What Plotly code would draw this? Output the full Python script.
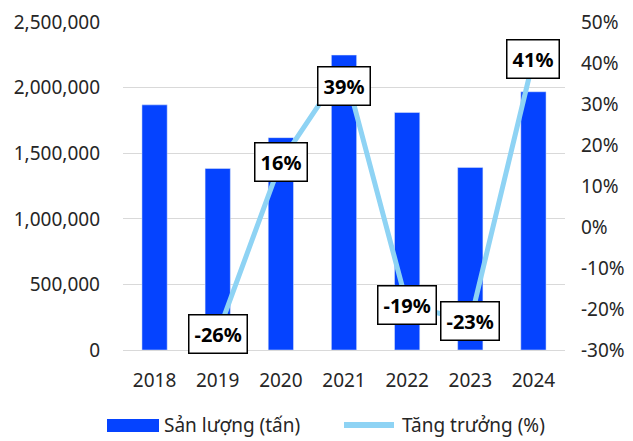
import plotly.graph_objects as go

years = [2018, 2019, 2020, 2021, 2022, 2023, 2024]
san_luong = [1870000, 1385000, 1620000, 2250000, 1812000, 1393000, 1970000]
tang_truong = [None, -26, 16, 39, -19, -23, 41]
label_yshift = [0, 0, 0, -19, 0, 0, 0]
left_ticks = [0, 500000, 1000000, 1500000, 2000000, 2500000]
right_ticks = [-30, -20, -10, 0, 10, 20, 30, 40, 50]
right_ticktext = [f"{v}%" for v in right_ticks]

FONT = "Noto Sans"
BAR_COLOR = "#0543FF"
LINE_COLOR = "#8ED3F4"
TEXT_COLOR = "#262626"

fig = go.Figure()
fig.add_trace(go.Bar(x=years, y=san_luong, marker_color=BAR_COLOR,
                     name="Sản lượng (tấn)", showlegend=False))
fig.add_trace(go.Scatter(x=years, y=tang_truong, yaxis="y2", mode="lines",
                         line=dict(color=LINE_COLOR, width=5),
                         name="Tăng trưởng (%)", showlegend=False))

for yr, v, ys in zip(years, tang_truong, label_yshift):
    if v is None:
        continue
    fig.add_annotation(x=yr, y=v, xref="x", yref="y2", text=f"<b>{v}%</b>",
                       showarrow=False, bgcolor="white", bordercolor="black",
                       borderwidth=1.5, borderpad=5, yshift=ys,
                       font=dict(family=FONT, size=20, color="black"))

# page has an 8px body margin; plot area is kept at page x 123-565, y 22-350
W, H = 442.0, 328.0
def px(x): return (x - 123) / W
def py(y): return (350 - y) / H

# manual legend
fig.add_shape(type="rect", xref="paper", yref="paper", x0=px(107), x1=px(159),
              y0=py(432), y1=py(419), fillcolor=BAR_COLOR, line=dict(width=0))
fig.add_annotation(xref="paper", yref="paper", x=px(162), y=py(425), text="Sản lượng (tấn)",
                   showarrow=False, xanchor="left", yanchor="middle",
                   font=dict(family=FONT, size=19, color=TEXT_COLOR))
fig.add_shape(type="line", xref="paper", yref="paper", x0=px(344), x1=px(394),
              y0=py(425), y1=py(425), line=dict(color=LINE_COLOR, width=6))
fig.add_annotation(xref="paper", yref="paper", x=px(400), y=py(425), text="Tăng trưởng (%)",
                   showarrow=False, xanchor="left", yanchor="middle",
                   font=dict(family=FONT, size=19, color=TEXT_COLOR))

fig.update_layout(
    width=625, height=433,
    margin=dict(l=115, r=68, t=14, b=91, autoexpand=False),
    paper_bgcolor="white", plot_bgcolor="white",
    font=dict(family=FONT, size=19, color=TEXT_COLOR),
    bargap=0.6,
    xaxis=dict(type="linear", range=[min(years) - 0.5, max(years) + 0.5],
               tickvals=years, showgrid=False, showline=False, ticks="",
               zeroline=False, ticklabelstandoff=17),
    yaxis=dict(range=[0, 2502000], tickvals=left_ticks, tickformat=",d",
               showgrid=True, gridcolor="#D9D9D9", gridwidth=1,
               zeroline=True, zerolinecolor="#D9D9D9", zerolinewidth=1,
               showline=False, ticks="", ticklabelstandoff=22, automargin=False,
               ticklabeloverflow="allow"),
    yaxis2=dict(range=[-30, 50.064], overlaying="y", side="right",
                tickvals=right_ticks, ticktext=right_ticktext,
                showgrid=False, zeroline=False, showline=False, ticks="",
                ticklabelstandoff=15, automargin=False,
                ticklabeloverflow="allow"),
)

fig.write_html("out.html")
